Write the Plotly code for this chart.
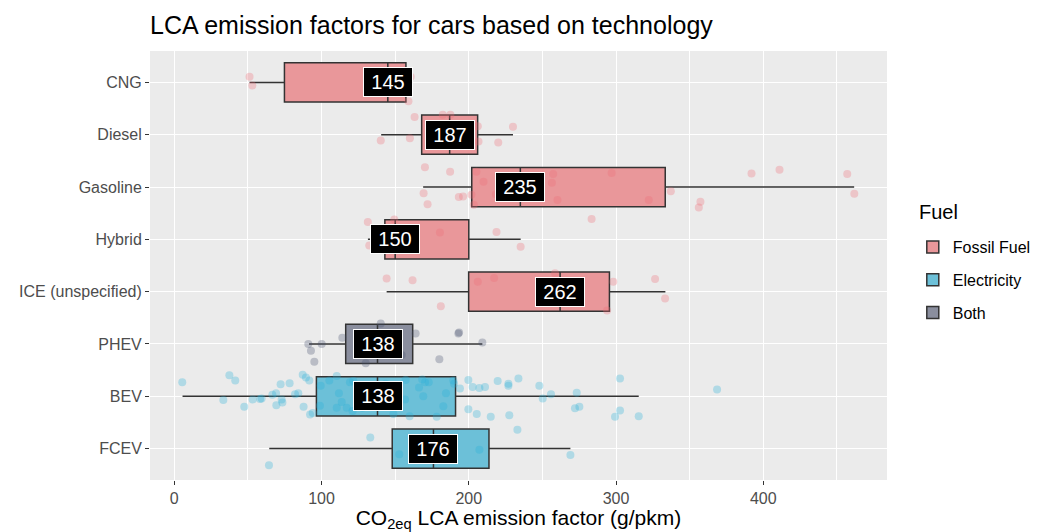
import plotly.graph_objects as go

categories = ["CNG", "Diesel", "Gasoline", "Hybrid", "ICE (unspecified)", "PHEV", "BEV", "FCEV"]
fuel_of = ["Fossil Fuel", "Fossil Fuel", "Fossil Fuel", "Fossil Fuel", "Fossil Fuel", "Both", "Electricity", "Electricity"]

q1 = [74.8, 168.0, 202.0, 143.0, 199.9, 116.4, 96.5, 148.0]
median = [145, 187, 235, 150, 262, 138, 138, 176]
q3 = [157.3, 206.0, 333.4, 200.0, 295.5, 161.9, 191.0, 213.7]
lower_whisker = [51.1, 140.5, 169.0, 131.5, 144.2, 91.5, 5.6, 64.5]
upper_whisker = [157.3, 230.0, 461.7, 235.2, 333.5, 209.2, 315.4, 269.0]

# jittered observations: value and vertical jitter offset (in category units)
cng_x = [51.1, 53.0, 159.0, 160.5]
cng_dy = [-0.11, 0.06, 0.36, -0.11]
diesel_x = [163.2, 182.3, 187.5, 140.2, 160.0, 206.6, 220.0, 230.0, 206.1]
diesel_dy = [-0.34, -0.38, -0.38, 0.11, 0.07, 0.13, 0.15, -0.15, -0.16]
gasoline_x = [170.2, 187.3, 169.3, 172.0, 193.2, 196.1, 201.8, 203.4, 205.2, 210.0, 218.4,
              257.3, 256.4, 260.2, 297.0, 322.2, 337.2, 357.3, 356.2, 392.0, 411.0, 457.0, 461.8]
gasoline_dy = [-0.38, -0.29, 0.12, 0.33, 0.19, 0.18, 0.15, 0.34, -0.29, -0.10, 0.14,
               -0.25, -0.08, 0.25, -0.27, 0.25, 0.08, 0.28, 0.39, -0.26, -0.33, -0.25, 0.13]
hybrid_x = [131.4, 149.4, 180.4, 218.8, 235.2, 132.4, 283.4]
hybrid_dy = [-0.33, -0.38, -0.13, -0.14, 0.14, 0.12, -0.39]
ice_x = [144.2, 161.8, 206.1, 217.2, 258.6, 298.1, 326.5, 333.3, 181.0, 293.9]
ice_dy = [-0.25, -0.22, -0.19, -0.26, -0.35, -0.19, -0.24, 0.13, 0.28, 0.36]
phev_x = [91.0, 92.8, 95.1, 100.1, 114.1, 140.2, 163.9, 192.9, 193.4, 180.0, 130.0, 154.4, 209.2]
phev_dy = [0.0, 0.13, 0.34, 0.0, -0.12, -0.39, -0.20, -0.20, -0.22, 0.29, 0.37, 0.21, -0.03]
bev_x = [5.4, 37.4, 41.4, 33.3, 47.5, 53.2, 58.2, 59.3, 66.6, 69.1, 69.3, 72.9, 73.4, 72.2, 78.3,
         82.0, 84.2, 87.2, 89.4, 91.7, 87.8, 92.2, 94.0, 99.4, 98.9, 105.3, 110.3, 111.8, 113.7,
         110.3, 117.1, 119.3, 121.6, 121.1, 127.7, 143.5, 148.8, 156.7, 157.1, 159.8, 166.2, 168.4,
         170.3, 172.8, 169.1, 178.2, 182.7, 184.5, 189.5, 194.0, 190.0, 199.7, 199.7, 202.6, 205.4,
         207.2, 211.0, 214.9, 219.6, 226.9, 226.9, 227.5, 233.7, 247.9, 250.2, 255.8, 273.3, 272.1,
         275.1, 299.3, 302.7, 302.7, 315.4, 368.6]
bev_dy = [-0.27, -0.40, -0.30, 0.07, 0.20, 0.06, 0.05, 0.04, -0.03, -0.06, 0.17, 0.06, 0.12, -0.23, -0.25,
          -0.04, -0.06, -0.41, -0.36, -0.30, 0.20, 0.35, 0.32, -0.20, 0.18, -0.30, -0.39, -0.06, 0.11,
          0.22, 0.22, -0.27, -0.29, 0.28, 0.22, -0.24, 0.34, 0.06, -0.31, 0.38, -0.17, -0.32,
          -0.27, -0.27, 0.0, 0.39, 0.19, -0.06, -0.30, -0.15, -0.24, -0.31, 0.25, -0.18, 0.34,
          -0.16, -0.18, 0.39, -0.29, -0.24, -0.20, 0.36, -0.34, -0.20, 0.04, -0.04, -0.07, 0.23,
          0.20, 0.39, -0.34, 0.27, 0.38, -0.13]
fcev_x = [133.1, 64.3, 152.8, 207.2, 269.0, 233.0]
fcev_dy = [-0.21, 0.32, 0.11, 0.02, 0.12, -0.36]

points = [(cng_x, cng_dy), (diesel_x, diesel_dy), (gasoline_x, gasoline_dy), (hybrid_x, hybrid_dy),
          (ice_x, ice_dy), (phev_x, phev_dy), (bev_x, bev_dy), (fcev_x, fcev_dy)]

fuel_order = ["Fossil Fuel", "Electricity", "Both"]
box_fill = {"Fossil Fuel": "#E9979A", "Electricity": "#6CC0D8", "Both": "#8A8E9E"}
point_col = {"Fossil Fuel": "rgba(240,110,120,0.30)", "Electricity": "rgba(40,175,215,0.30)",
             "Both": "rgba(70,80,110,0.30)"}

FONT = "Liberation Sans, Arial"
fig = go.Figure()

for f in fuel_order:
    idx = [i for i, g in enumerate(fuel_of) if g == f]
    fig.add_trace(go.Box(
        name=f, orientation="h",
        y=idx,
        q1=[q1[i] for i in idx], median=[median[i] for i in idx], q3=[q3[i] for i in idx],
        lowerfence=[lower_whisker[i] for i in idx], upperfence=[upper_whisker[i] for i in idx],
        fillcolor=box_fill[f], line=dict(color="#333333", width=1.5), whiskerwidth=0,
        width=0.75, boxpoints=False, legendgroup=f, showlegend=True, hoverinfo="skip",
    ))

for i, (xs, dys) in enumerate(points):
    f = fuel_of[i]
    fig.add_trace(go.Scatter(
        x=xs, y=[i + d for d in dys], mode="markers",
        marker=dict(size=8, color=point_col[f], line=dict(width=0)),
        showlegend=False, legendgroup=f, hoverinfo="skip",
    ))

for i, m in enumerate(median):
    fig.add_annotation(
        x=m, y=i, text=str(m), showarrow=False,
        font=dict(family=FONT, size=20, color="white"),
        bgcolor="black", bordercolor="white", borderwidth=1, borderpad=2,
        width=44, height=24, align="center", valign="middle",
    )

# legend title drawn as text so the item spacing matches
fig.add_annotation(
    xref="paper", yref="paper", x=(917 - 150) / 737, y=1 - (212 - 51) / 429,
    xanchor="left", yanchor="middle", text="Fuel", showarrow=False,
    font=dict(family=FONT, size=20, color="black"),
)

fig.update_layout(
    width=1040, height=532,
    margin=dict(l=150, r=153, t=51, b=52, autoexpand=False),
    paper_bgcolor="white", plot_bgcolor="#EBEBEB",
    boxmode="overlay",
    font=dict(family=FONT, color="#4D4D4D", size=15),
    title=dict(text="LCA emission factors for cars based on technology",
               x=150 / 1040, xanchor="left", y=1 - 25 / 532, yanchor="middle",
               font=dict(size=25, color="black")),
    legend=dict(x=1.035, xanchor="left", y=1 - (230 - 51) / 429, yanchor="top",
                font=dict(size=16, color="black"), tracegroupgap=9,
                bgcolor="rgba(0,0,0,0)"),
    xaxis=dict(range=[-16.5, 484], dtick=100, tick0=0, showgrid=True, gridcolor="white",
               gridwidth=1.3, zeroline=False, ticks="outside", ticklen=4, tickcolor="#333333",
               tickfont=dict(size=16, color="#4D4D4D"), automargin=False,
               minor=dict(dtick=50, showgrid=True, gridcolor="white", gridwidth=0.6),
               title=dict(text="CO<sub>2eq</sub> LCA emission factor (g/pkm)",
                          font=dict(size=21, color="black"), standoff=4)),
    yaxis=dict(range=[7.6, -0.6], tickmode="array", tickvals=list(range(len(categories))),
               ticktext=categories, showgrid=True, gridcolor="white", gridwidth=1.3,
               zeroline=False, ticks="outside", ticklen=4, tickcolor="#333333", automargin=False,
               tickfont=dict(size=16, color="#4D4D4D")),
)

fig.write_html("out.html", config={"displayModeBar": False},
               post_script="document.body.style.margin='0';document.body.style.padding='0';")
